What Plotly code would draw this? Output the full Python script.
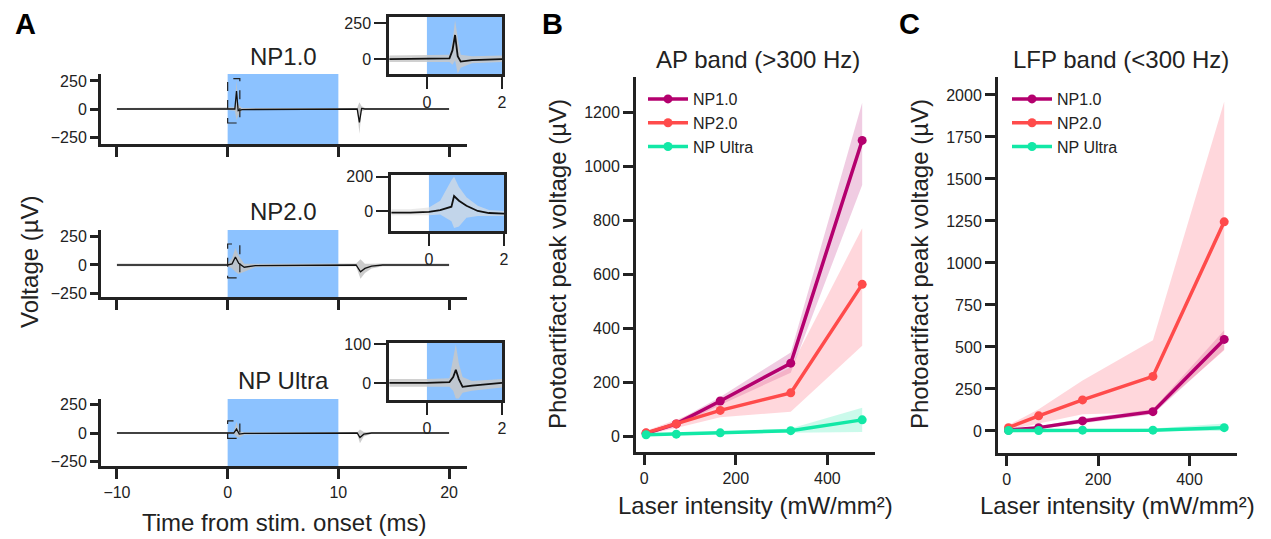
import plotly.graph_objects as go

W, H = 1271, 539

# ---------------- Panel A data ----------------
# main traces (time in ms, voltage in uV)
np1_t = [-10, 0, 0.65, 0.8, 0.95, 1.3, 11.7, 11.9, 12.1, 12.4, 20]
np1_v = [0, 0, 0, 160, -15, -5, 0, -120, 5, 0, 0]
np1_hi = [10, 10, 15, 260, 40, 10, 10, 60, 25, 10, 10]
np1_lo = [-10, -10, -15, -100, -60, -10, -10, -220, -20, -10, -10]

np2_t = [-10, 0, 0.4, 0.7, 1.0, 1.5, 2.5, 11.6, 12.0, 12.4, 13, 14, 20]
np2_v = [0, 0, 10, 70, 15, -20, -5, 0, -60, -30, -10, 0, 0]
np2_hi = [12, 12, 60, 150, 80, 10, 10, 12, 50, 10, 10, 12, 12]
np2_lo = [-12, -12, -30, -60, -80, -60, -20, -12, -120, -70, -30, -12, -12]

npu_t = [-10, 0, 0.55, 0.8, 1.05, 1.5, 11.7, 11.95, 12.3, 13, 20]
npu_v = [0, 0, 0, 35, -10, -3, 0, -40, -10, 0, 0]
npu_hi = [7, 7, 10, 100, 15, 7, 7, 30, 10, 7, 7]
npu_lo = [-7, -7, -10, -30, -40, -15, -7, -90, -30, -7, -7]

# inset traces
in1_t = [-1, 0, 0.6, 0.68, 0.75, 0.82, 0.9, 1.2, 2.0]
in1_v = [0, 0, 5, 60, 167, 20, -18, -8, 0]
in1_hi = [25, 25, 30, 120, 270, 150, 30, 20, 25]
in1_lo = [-20, -20, -20, -40, -10, -100, -60, -30, -20]

in2_t = [-1, -0.5, 0, 0.3, 0.6, 0.67, 0.8, 1.0, 1.3, 1.6, 2.0]
in2_v = [-10, -10, -5, 5, 25, 87, 60, 30, 0, -12, -15]
in2_hi = [10, 10, 20, 60, 180, 200, 140, 80, 30, 5, 0]
in2_lo = [-25, -25, -25, -20, -60, -100, -90, -40, -30, -30, -30]

in3_t = [-1, 0, 0.6, 0.7, 0.77, 0.85, 0.95, 1.2, 2.0]
in3_v = [0, 0, 2, 15, 34, 10, -10, -7, 0]
in3_hi = [10, 10, 12, 60, 100, 50, 15, 5, 10]
in3_lo = [-10, -10, -10, -20, -40, -40, -25, -20, -12]

# stim window and zoom boxes
stim_on, stim_off = 0, 10
zoom_x = [0, 1.1]
zoom_y1 = [-125, 270]
zoom_y2 = [-114, 184]
zoom_y3 = [-47, 108]

# ---------------- Panels B / C data ----------------
intensity = [4, 70, 166, 320, 476]
probes = ["NP1.0", "NP2.0", "NP Ultra"]

ap_np1 = [10, 45, 130, 270, 1095]
ap_np1_lo = [5, 35, 115, 235, 930]
ap_np1_hi = [15, 55, 145, 310, 1235]
ap_np2 = [12, 45, 95, 160, 562]
ap_np2_lo = [5, 30, 70, 90, 335]
ap_np2_hi = [20, 60, 125, 255, 770]
ap_ult = [5, 7, 12, 20, 60]
ap_ult_lo = [2, 4, 8, 12, 15]
ap_ult_hi = [8, 10, 16, 28, 105]

lfp_np1 = [5, 20, 60, 115, 545]
lfp_np1_lo = [2, 12, 45, 100, 485]
lfp_np1_hi = [8, 28, 75, 130, 600]
lfp_np2 = [20, 90, 185, 325, 1245]
lfp_np2_lo = [5, 45, 100, 110, 480]
lfp_np2_hi = [35, 130, 300, 540, 1960]
lfp_ult = [3, 3, 5, 5, 20]
lfp_ult_lo = [0, 0, 0, 0, 0]
lfp_ult_hi = [6, 8, 10, 15, 45]

colors = {"NP1.0": "#B4006E", "NP2.0": "#FF4B4B", "NP Ultra": "#12E8A6"}
bands = {"NP1.0": "rgba(180,0,110,0.20)", "NP2.0": "rgba(255,110,130,0.28)",
         "NP Ultra": "rgba(18,232,166,0.22)"}

FONT = "Liberation Sans, Arial, sans-serif"
TXT = "#222222"
BLUE = "#8CC2FF"


def px(x):
    return x / W


def py(y):
    return 1 - y / H


fig = go.Figure()


def band_trace(t, lo, hi, xa, ya, color):
    return go.Scatter(x=list(t) + list(t)[::-1], y=list(hi) + list(lo)[::-1],
                      fill="toself", fillcolor=color, line=dict(width=0),
                      mode="lines", hoverinfo="skip", showlegend=False,
                      xaxis=xa, yaxis=ya)


# Panel A traces
A_sets = [
    (np1_t, np1_v, np1_lo, np1_hi, "x", "y", 1.3, "rgba(195,195,195,0.85)"),
    (np2_t, np2_v, np2_lo, np2_hi, "x2", "y2", 1.3, "rgba(195,195,195,0.85)"),
    (npu_t, npu_v, npu_lo, npu_hi, "x3", "y3", 1.3, "rgba(195,195,195,0.85)"),
    (in1_t, in1_v, in1_lo, in1_hi, "x4", "y4", 1.8, "rgba(200,200,200,0.85)"),
    (in2_t, in2_v, in2_lo, in2_hi, "x5", "y5", 1.8, "rgba(222,222,222,0.65)"),
    (in3_t, in3_v, in3_lo, in3_hi, "x6", "y6", 1.8, "rgba(200,200,200,0.85)"),
]
for t, v, lo, hi, xa, ya, lw, bc in A_sets:
    fig.add_trace(band_trace(t, lo, hi, xa, ya, bc))
    fig.add_trace(go.Scatter(x=t, y=v, mode="lines", line=dict(color="#111111", width=lw),
                             showlegend=False, xaxis=xa, yaxis=ya))

# Panels B and C
BC = [
    ("x7", "y7", "legend", [(ap_np1, ap_np1_lo, ap_np1_hi), (ap_np2, ap_np2_lo, ap_np2_hi),
                            (ap_ult, ap_ult_lo, ap_ult_hi)]),
    ("x8", "y8", "legend2", [(lfp_np1, lfp_np1_lo, lfp_np1_hi), (lfp_np2, lfp_np2_lo, lfp_np2_hi),
                             (lfp_ult, lfp_ult_lo, lfp_ult_hi)]),
]
for xa, ya, leg, series in BC:
    for name, (m, lo, hi) in zip(probes, series):
        fig.add_trace(band_trace(intensity, lo, hi, xa, ya, bands[name]))
    for name, (m, lo, hi) in zip(probes, series):
        fig.add_trace(go.Scatter(x=intensity, y=m, mode="lines+markers", name=name,
                                 line=dict(color=colors[name], width=3.5),
                                 marker=dict(color=colors[name], size=9),
                                 xaxis=xa, yaxis=ya, legend=leg))

common = dict(showline=True, linecolor="#222222", ticks="outside", tickcolor="#222222",
              showgrid=False, zeroline=False, tickfont=dict(size=16, color=TXT, family=FONT))

main_x = [101, 467]
main_y = {"": (74, 144), "2": (230, 297), "3": (399, 466)}
main_yr = {"": [-312, 312], "2": [-281, 307], "3": [-292, 301]}
layout = {}
for k in ["", "2", "3"]:
    y0, y1 = main_y[k]
    layout["xaxis" + k] = dict(common, domain=[px(main_x[0]), px(main_x[1])], anchor="y" + k,
                               range=[-11.44, 21.62], tickvals=[-10, 0, 10, 20],
                               showticklabels=(k == "3"), linewidth=3, tickwidth=2.5, ticklen=10)
    layout["yaxis" + k] = dict(common, domain=[py(y1), py(y0)], anchor="x" + k,
                               range=main_yr[k], tickvals=[-250, 0, 250],
                               ticktext=["\u2212250", "0", "250"], linewidth=3, tickwidth=2.5,
                               ticklen=8)

inset = {"4": ((389, 502), (17, 74), [-104, 292], [0, 250]),
         "5": ((391, 504), (175, 231), [-117, 210], [0, 200]),
         "6": ((389, 502), (343, 400), [-44, 103], [0, 100])}
for k, ((xa0, xa1), (ya0, ya1), yr, yt) in inset.items():
    layout["xaxis" + k] = dict(common, domain=[px(xa0), px(xa1)], anchor="y" + k,
                               range=[-1.01, 2.0], tickvals=[0, 2], mirror=True,
                               linewidth=2.5, tickwidth=2.2, ticklen=12)
    layout["yaxis" + k] = dict(common, domain=[py(ya1), py(ya0)], anchor="x" + k,
                               range=yr, tickvals=yt, mirror=True,
                               linewidth=2.5, tickwidth=2.2, ticklen=12)

layout["xaxis7"] = dict(common, domain=[px(636), px(875)], anchor="y7", range=[-18, 504],
                        tickvals=[0, 200, 400], linewidth=3, tickwidth=2.5, ticklen=10)
layout["yaxis7"] = dict(common, domain=[py(452), py(77)], anchor="x7", range=[-59, 1330],
                        tickvals=[0, 200, 400, 600, 800, 1000, 1200], linewidth=3,
                        tickwidth=2.5, ticklen=10)
layout["xaxis8"] = dict(common, domain=[px(998), px(1237)], anchor="y8", range=[-19, 504],
                        tickvals=[0, 200, 400], linewidth=3, tickwidth=2.5, ticklen=10)
layout["yaxis8"] = dict(common, domain=[py(453), py(77)], anchor="x8", range=[-131, 2107],
                        tickvals=[0, 250, 500, 750, 1000, 1250, 1500, 1750, 2000], linewidth=3,
                        tickwidth=2.5, ticklen=10)

fig.update_layout(**layout)

# shapes: stimulus windows and zoom boxes
shapes = []
for k in ["", "2", "3"]:
    shapes.append(dict(type="rect", xref="x" + k, yref="y" + k + " domain", x0=stim_on,
                       x1=stim_off, y0=0, y1=1, fillcolor=BLUE, line=dict(width=0),
                       layer="below"))
for k in ["4", "5", "6"]:
    shapes.append(dict(type="rect", xref="x" + k, yref="y" + k + " domain", x0=stim_on,
                       x1=2, y0=0, y1=1, fillcolor=BLUE, line=dict(width=0), layer="below"))
for k, zy in [("", zoom_y1), ("2", zoom_y2), ("3", zoom_y3)]:
    shapes.append(dict(type="rect", xref="x" + k, yref="y" + k, x0=zoom_x[0], x1=zoom_x[1],
                       y0=zy[0], y1=zy[1], line=dict(color="#222222", width=1.2, dash="dash"),
                       fillcolor="rgba(0,0,0,0)"))
fig.update_layout(shapes=shapes)


def ann(text, x, y, size, bold=False, angle=0, color=TXT):
    return dict(text=("<b>%s</b>" % text) if bold else text, x=px(x), y=py(y),
                xref="paper", yref="paper", showarrow=False, xanchor="center",
                yanchor="middle", textangle=angle,
                font=dict(size=size, color=color, family=FONT))


annotations = [
    ann("A", 25, 24, 29, bold=True, color="#000000"),
    ann("B", 552, 24, 29, bold=True, color="#000000"),
    ann("C", 909, 24, 29, bold=True, color="#000000"),
    ann("NP1.0", 283, 56, 24),
    ann("NP2.0", 283, 212, 24),
    ann("NP Ultra", 283, 380, 24),
    ann("Voltage (\u00b5V)", 29, 262, 24, angle=-90),
    ann("Time from stim. onset (ms)", 284, 522, 24),
    ann("AP band (&gt;300 Hz)", 758, 60, 24),
    ann("LFP band (&lt;300 Hz)", 1121, 60, 24),
    ann("Laser intensity (mW/mm\u00b2)", 755, 505, 24),
    ann("Laser intensity (mW/mm\u00b2)", 1117, 505, 24),
    ann("Photoartifact peak voltage (\u00b5V)", 557, 264, 24, angle=-90),
    ann("Photoartifact peak voltage (\u00b5V)", 919, 264, 24, angle=-90),
]
fig.update_layout(annotations=annotations)

leg_common = dict(bgcolor="rgba(0,0,0,0)", borderwidth=0, xanchor="left", yanchor="top",
                  font=dict(size=16, color=TXT, family=FONT), tracegroupgap=0, itemwidth=40)
fig.update_layout(
    legend=dict(leg_common, x=px(643), y=py(82)),
    legend2=dict(leg_common, x=px(1007), y=py(82)),
    width=W, height=H, margin=dict(l=0, r=0, t=0, b=0, autoexpand=False),
    paper_bgcolor="white", plot_bgcolor="rgba(0,0,0,0)",
    font=dict(family=FONT, color=TXT),
)

post = ("document.body.style.margin='0';document.body.style.padding='0';"
        "document.body.style.overflow='hidden';"
        "document.documentElement.style.overflow='hidden';")
fig.write_html("out.html", post_script=post, config={"displayModeBar": False})
